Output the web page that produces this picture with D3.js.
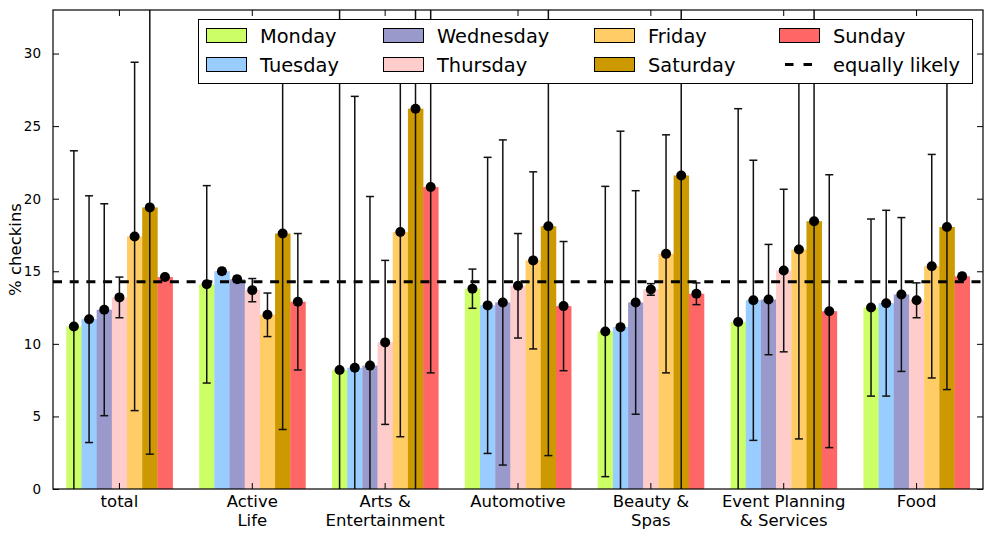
<!DOCTYPE html>
<html>
<head>
<meta charset="utf-8">
<script src="https://cdn.jsdelivr.net/npm/d3@7"></script>
<style>
  body { margin: 0; background: #fff; }
  svg { font-family: "DejaVu Sans", sans-serif; }
</style>
</head>
<body>
<svg id="chart" width="993" height="538"></svg>
<script>
// categories and days
const categories = ["total", "Active\nLife", "Arts &\nEntertainment", "Automotive",
                    "Beauty &\nSpas", "Event Planning\n& Services", "Food"];
const days = ["Monday", "Tuesday", "Wednesday", "Thursday", "Friday", "Saturday", "Sunday"];
const dayColors = ["#ccff66", "#99ccff", "#9999cc", "#ffcccc", "#ffcc66", "#cc9900", "#ff6666"];

// mean % checkins per day, one row per category
const means = [
    [11.2, 11.7, 12.35, 13.2, 17.4, 19.4, 14.6],
    [14.1, 15.0, 14.45, 13.7, 12.0, 17.6, 12.9],
    [8.2, 8.35, 8.5, 10.1, 17.7, 26.2, 20.8],
    [13.8, 12.65, 12.85, 14.0, 15.75, 18.1, 12.6],
    [10.85, 11.15, 12.85, 13.75, 16.2, 21.6, 13.45],
    [11.5, 13.0, 13.05, 15.05, 16.5, 18.45, 12.25],
    [12.5, 12.8, 13.4, 13.0, 15.35, 18.05, 14.65]
];
// standard deviations (error bars)
const errs = [
    [12.1, 8.5, 7.3, 1.4, 12.0, 17.0, 0.15],
    [6.8, 0.2, 0.2, 0.8, 1.5, 13.5, 4.7],
    [26.0, 18.7, 11.65, 5.65, 14.1, 28.0, 12.8],
    [1.35, 10.2, 11.2, 3.6, 6.1, 15.8, 4.45],
    [10.0, 13.5, 7.7, 0.4, 8.2, 23.0, 0.75],
    [14.7, 9.65, 3.8, 5.6, 13.05, 19.0, 9.4],
    [6.1, 6.4, 5.3, 1.2, 7.7, 11.2, 0.2]
];
const equallyLikely = 100 / 7;
const yTicks = [0, 5, 10, 15, 20, 25, 30];

const svg = d3.select("#chart");
const pLeft = 53, pRight = 983, pTop = 10, pBottom = 489;

const x = d3.scaleBand().domain(categories).range([pLeft, pRight])
    .paddingInner(0.2).paddingOuter(0.1);
const xd = d3.scaleBand().domain(days).range([0, x.bandwidth()]);
const y = d3.scaleLinear().domain([0, 33]).range([pBottom, pTop]);
const color = d3.scaleOrdinal().domain(days).range(dayColors);

svg.append("clipPath").attr("id", "plotclip")
    .append("rect")
    .attr("x", pLeft).attr("y", pTop)
    .attr("width", pRight - pLeft).attr("height", pBottom - pTop);

const rows = [];
categories.forEach(function(c, i) {
    days.forEach(function(d, j) {
        rows.push({cat: c, day: d, mean: means[i][j], err: errs[i][j]});
    });
});

const plot = svg.append("g").attr("clip-path", "url(#plotclip)");

// bars
plot.selectAll("rect.bar")
    .data(rows)
    .enter()
    .append("rect")
        .attr("class", "bar")
        .attr("x", function(d) { return x(d.cat) + xd(d.day); })
        .attr("width", xd.bandwidth() + 0.3)
        .attr("y", function(d) { return y(d.mean); })
        .attr("height", function(d) { return y(0) - y(d.mean); })
        .attr("fill", function(d) { return color(d.day); });

// equally likely line
plot.append("line")
    .attr("x1", pLeft).attr("x2", pRight)
    .attr("y1", y(equallyLikely)).attr("y2", y(equallyLikely))
    .attr("stroke", "#000")
    .attr("stroke-width", 3)
    .attr("stroke-dasharray", "9,7.7");

// error bars
function cx(d) { return x(d.cat) + xd(d.day) + xd.bandwidth() / 2; }
const eb = plot.selectAll("g.err")
    .data(rows)
    .enter()
    .append("g")
        .attr("class", "err")
        .attr("stroke", "#111")
        .attr("stroke-width", 1.5);
eb.append("line")
    .attr("x1", cx).attr("x2", cx)
    .attr("y1", function(d) { return y(d.mean - d.err); })
    .attr("y2", function(d) { return y(d.mean + d.err); });
eb.append("line")
    .attr("x1", function(d) { return cx(d) - 4; })
    .attr("x2", function(d) { return cx(d) + 4; })
    .attr("y1", function(d) { return y(d.mean + d.err); })
    .attr("y2", function(d) { return y(d.mean + d.err); });
eb.append("line")
    .attr("x1", function(d) { return cx(d) - 4; })
    .attr("x2", function(d) { return cx(d) + 4; })
    .attr("y1", function(d) { return y(d.mean - d.err); })
    .attr("y2", function(d) { return y(d.mean - d.err); });

// dots
plot.selectAll("circle.dot")
    .data(rows)
    .enter()
    .append("circle")
        .attr("class", "dot")
        .attr("cx", cx)
        .attr("cy", function(d) { return y(d.mean); })
        .attr("r", 5)
        .attr("fill", "#000");

// axes frame
svg.append("rect")
    .attr("x", pLeft).attr("y", pTop)
    .attr("width", pRight - pLeft).attr("height", pBottom - pTop)
    .attr("fill", "none").attr("stroke", "#000").attr("stroke-width", 1.2);

// y ticks inward on both sides
const yAxisL = d3.axisLeft(y).tickValues(yTicks).tickSize(-6).tickPadding(12);
const gy = svg.append("g").attr("transform", "translate(" + pLeft + ",0)").call(yAxisL);
gy.select(".domain").remove();
gy.selectAll("text").attr("font-size", 13.5).attr("fill", "#000")
    .attr("font-family", "DejaVu Sans");
const gyr = svg.append("g").attr("transform", "translate(" + pRight + ",0)")
    .call(d3.axisRight(y).tickValues(yTicks).tickSize(-6).tickFormat(""));
gyr.select(".domain").remove();

// x ticks inward bottom and top
const gx = svg.append("g").attr("transform", "translate(0," + pBottom + ")")
    .call(d3.axisBottom(x).tickSize(-6).tickFormat(""));
gx.select(".domain").remove();
const gxt = svg.append("g").attr("transform", "translate(0," + pTop + ")")
    .call(d3.axisTop(x).tickSize(-6).tickFormat(""));
gxt.select(".domain").remove();

// x labels (multi-line)
const xl = svg.append("g")
    .selectAll("text")
    .data(categories)
    .enter()
    .append("text")
        .attr("text-anchor", "middle")
        .attr("font-size", 16.5)
        .attr("fill", "#000")
        .attr("transform", function(d) { return "translate(" + (x(d) + x.bandwidth() / 2) + ",507)"; });
xl.selectAll("tspan")
    .data(function(d) { return d.split("\n"); })
    .enter()
    .append("tspan")
        .attr("x", 0)
        .attr("dy", function(d, i) { return i === 0 ? 0 : 18.5; })
        .text(function(d) { return d; });

// y label
svg.append("text")
    .attr("transform", "translate(21," + ((pTop + pBottom) / 2) + ") rotate(-90)")
    .attr("text-anchor", "middle")
    .attr("font-size", 16.5)
    .text("% checkins");

// legend
const legend = svg.append("g");
legend.append("rect")
    .attr("x", 198.5).attr("y", 19.5)
    .attr("width", 774).attr("height", 64)
    .attr("fill", "#fff").attr("stroke", "#000").attr("stroke-width", 1);

const colX = [206, 383, 594, 779];
const rowY = [35.5, 64.5];
const entries = days.map(function(d) { return {label: d, type: "patch"}; });
entries.push({label: "equally likely", type: "line"});

const le = legend.selectAll("g.entry")
    .data(entries)
    .enter()
    .append("g")
        .attr("class", "entry")
        .attr("transform", function(d, i) {
            return "translate(" + colX[Math.floor(i / 2)] + "," + rowY[i % 2] + ")";
        });
le.filter(function(d) { return d.type === "patch"; })
    .append("rect")
        .attr("x", 0.5).attr("y", -7)
        .attr("width", 40).attr("height", 14)
        .attr("fill", function(d) { return color(d.label); })
        .attr("stroke", "#000").attr("stroke-width", 1);
le.filter(function(d) { return d.type === "line"; })
    .append("line")
        .attr("x1", 6).attr("x2", 34)
        .attr("y1", 0).attr("y2", 0)
        .attr("stroke", "#000").attr("stroke-width", 3)
        .attr("stroke-dasharray", "8.5,10");
le.append("text")
    .attr("x", 54)
    .attr("y", 7)
    .attr("font-size", 19.4)
    .attr("fill", "#000")
    .text(function(d) { return d.label; });
</script>
</body>
</html>
